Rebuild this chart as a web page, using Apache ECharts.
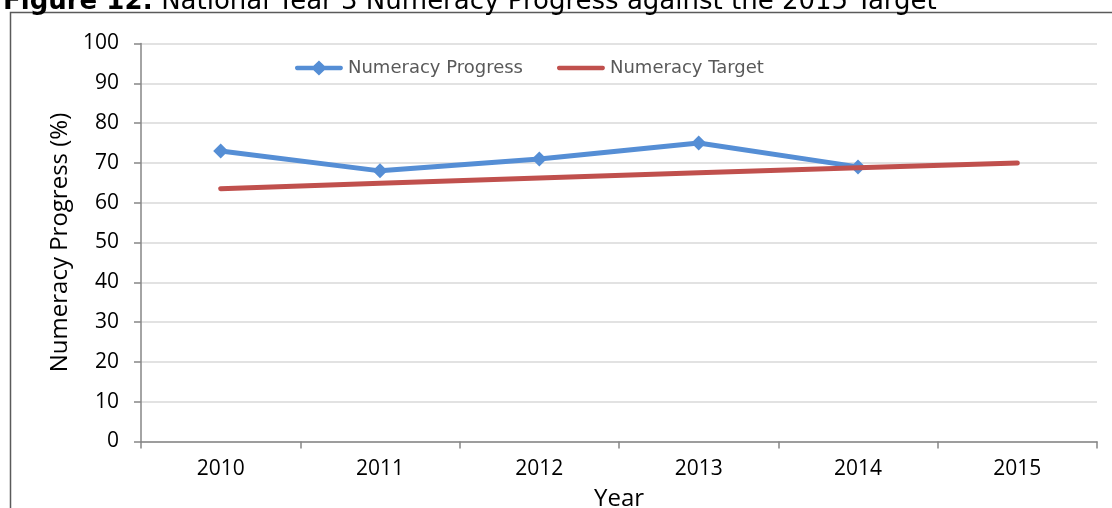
<!DOCTYPE html>
<html>
<head>
<meta charset="utf-8">
<script src="https://cdn.jsdelivr.net/npm/echarts@6/dist/echarts.min.js"></script>
<style>
html,body{margin:0;padding:0;background:#fff;}
#chart{width:1112px;height:508px;}
</style>
</head>
<body>
<div id="chart"></div>
<script>
const years = ['2010', '2011', '2012', '2013', '2014', '2015'];
const progressValues = [73, 68, 71, 75, 69, null];
const targetValues = [63.5, 64.9, 66.2, 67.5, 68.8, 70];
const yTicks = [0, 10, 20, 30, 40, 50, 60, 70, 80, 90, 100];

const chart = echarts.init(document.getElementById('chart'));
const tickFont = '"Open Sans", "Noto Sans", sans-serif';
const progressIcon = 'path://M0,0L0.1,0L0,0.1Z M48,16L48.1,16L48,15.9Z M2,5.8C0.9,5.8 0,6.7 0,7.9C0,9.1 0.9,10.2 2,10.2L18.5,10.2L24,15.5L29.5,10.2L46,10.2C47.1,10.2 48,9.1 48,7.9C48,6.7 47.1,5.8 46,5.8L29.5,5.8L24,0.5L18.5,5.8Z';
const targetIcon = 'path://M0,0L0.1,0L0,0.1Z M48,16L48.1,16L48,15.9Z M2,5.8C0.9,5.8 0,6.7 0,7.9C0,9.1 0.9,10.2 2,10.2L46,10.2C47.1,10.2 48,9.1 48,7.9C48,6.7 47.1,5.8 46,5.8Z';
chart.setOption({
  animation: false,
  backgroundColor: '#fff',
  title: {
    text: '{b|Figure 12:} National Year 3 Numeracy Progress against the 2015 Target',
    left: -2,
    top: -16,
    textStyle: {
      fontFamily: '"DejaVu Sans", sans-serif',
      fontSize: 26,
      fontWeight: 'normal',
      color: '#000',
      rich: {
        b: {fontFamily: '"DejaVu Sans", sans-serif', fontSize: 26, fontWeight: 'bold', color: '#000'}
      }
    }
  },
  graphic: [
    {type: 'polyline', shape: {points: [[10.5, 520], [10.5, 12.5], [1120, 12.5]]},
     style: {stroke: '#5a5a5a', lineWidth: 1.5, fill: null}, silent: true}
  ],
  legend: {
    left: 290,
    top: 54,
    itemWidth: 48,
    itemHeight: 16,
    itemGap: 34,
    textStyle: {fontFamily: '"DejaVu Sans", sans-serif', fontSize: 18, color: '#595959'},
    data: [
      {name: 'Numeracy Progress', icon: progressIcon, itemStyle: {color: '#558ed5'}},
      {name: 'Numeracy Target', icon: targetIcon, itemStyle: {color: '#c0504d'}}
    ]
  },
  grid: {left: 141, right: 15, top: 43.5, bottom: 66.5, containLabel: false, outerBoundsMode: 'none'},
  xAxis: {
    type: 'category',
    data: years,
    boundaryGap: true,
    name: 'Year',
    nameLocation: 'middle',
    nameGap: 46,
    nameTextStyle: {fontFamily: tickFont, fontSize: 24, color: '#000'},
    axisLine: {lineStyle: {color: '#868686', width: 1.5}},
    axisTick: {show: true, length: 7, inside: false, alignWithLabel: false, lineStyle: {color: '#868686', width: 1.5}},
    axisLabel: {fontFamily: tickFont, fontSize: 21, color: '#000', margin: 17}
  },
  yAxis: {
    type: 'value',
    min: 0,
    max: 100,
    interval: 10,
    name: 'Numeracy Progress (%)',
    nameLocation: 'middle',
    nameGap: 65,
    nameTextStyle: {fontFamily: tickFont, fontSize: 24, color: '#000'},
    axisLine: {show: true, lineStyle: {color: '#868686', width: 1.5}},
    axisTick: {show: true, length: 7, lineStyle: {color: '#868686', width: 1.5}},
    axisLabel: {fontFamily: tickFont, fontSize: 21, color: '#000', margin: 22,
      formatter: v => yTicks.includes(v) ? String(v) : ''},
    splitLine: {show: true, lineStyle: {color: '#d9d9d9', width: 1.5}}
  },
  series: [
    {
      name: 'Numeracy Progress',
      type: 'line',
      data: progressValues,
      symbol: 'diamond',
      symbolSize: 15,
      showSymbol: true,
      connectNulls: false,
      lineStyle: {color: '#558ed5', width: 5},
      itemStyle: {color: '#558ed5'},
      z: 3
    },
    {
      name: 'Numeracy Target',
      type: 'line',
      data: targetValues,
      symbol: 'none',
      lineStyle: {color: '#c0504d', width: 5, cap: 'round'},
      itemStyle: {color: '#c0504d'},
      z: 4
    }
  ]
});
</script>
</body>
</html>
